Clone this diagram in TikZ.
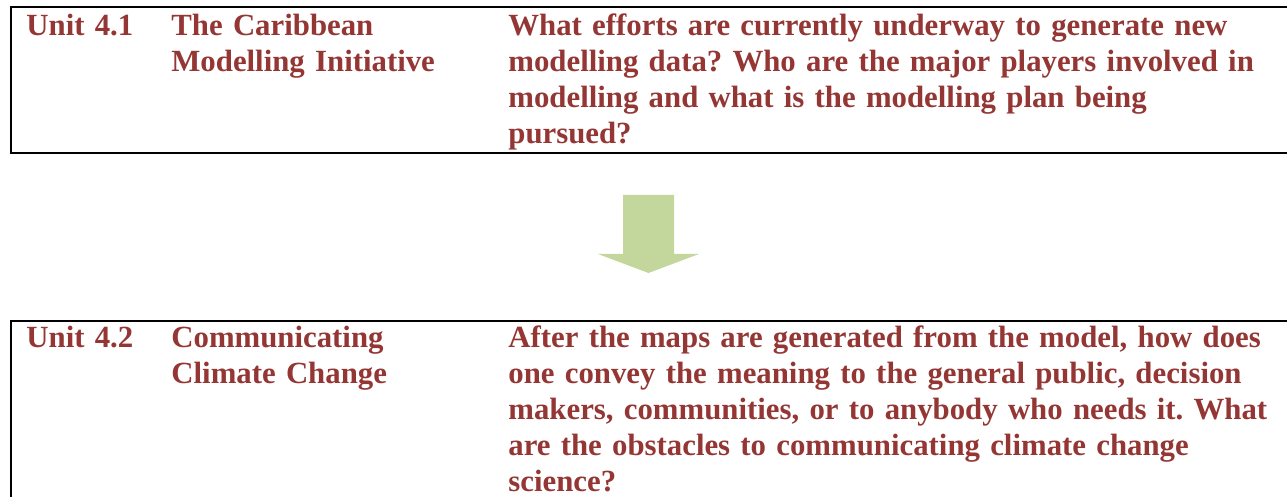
\documentclass[tikz,border=0pt]{standalone}
\usepackage{fontspec}
\setmainfont{Liberation Serif}
\frenchspacing
\definecolor{unitred}{HTML}{943634}
\definecolor{flowgreen}{HTML}{C3D69B}

\begin{document}
\begin{tikzpicture}[
  x=0.5pt, y=-0.5pt,
  every node/.style={font=\fontsize{15.4}{18}\selectfont\bfseries,
              text=unitred, inner sep=0pt, anchor=base west, align=left},
  frame/.style={draw=black, line width=1.2pt},
  flow/.style={fill=flowgreen},
]
  \useasboundingbox (0,0) rectangle (1287,497);

  % unit 4.1
  \draw[frame] (1287,7) -- (11,7) -- (11,153) -- (1287,153);
  \node[text width=60pt] (unit1) at (26,36) {Unit 4.1};
  \node[text width=160pt] (title1) at (171,36)
    {The Caribbean\\Modelling Initiative};
  \node[text width=385pt] (quest1) at (508,36)
    {What efforts are currently underway to generate new\\
     modelling data? Who are the major players involved in\\
     modelling and what is the modelling plan being\\
     pursued?};

  % block arrow between the units
  \fill[flow] (623,195) -- (674,195) -- (674,254) -- (699,254)
    -- (648.5,273) -- (598,254) -- (623,254) -- cycle;

  % unit 4.2
  \draw[frame] (1287,321) -- (11,321) -- (11,497);
  \node[text width=60pt] (unit2) at (26,348) {Unit 4.2};
  \node[text width=160pt] (title2) at (171,348)
    {Communicating\\Climate Change};
  \node[text width=385pt] (quest2) at (508,348)
    {After the maps are generated from the model, how does\\
     one convey the meaning to the general public, decision\\
     makers, communities, or to anybody who needs it. What\\
     are the obstacles to communicating climate change\\
     science?};
\end{tikzpicture}
\end{document}
